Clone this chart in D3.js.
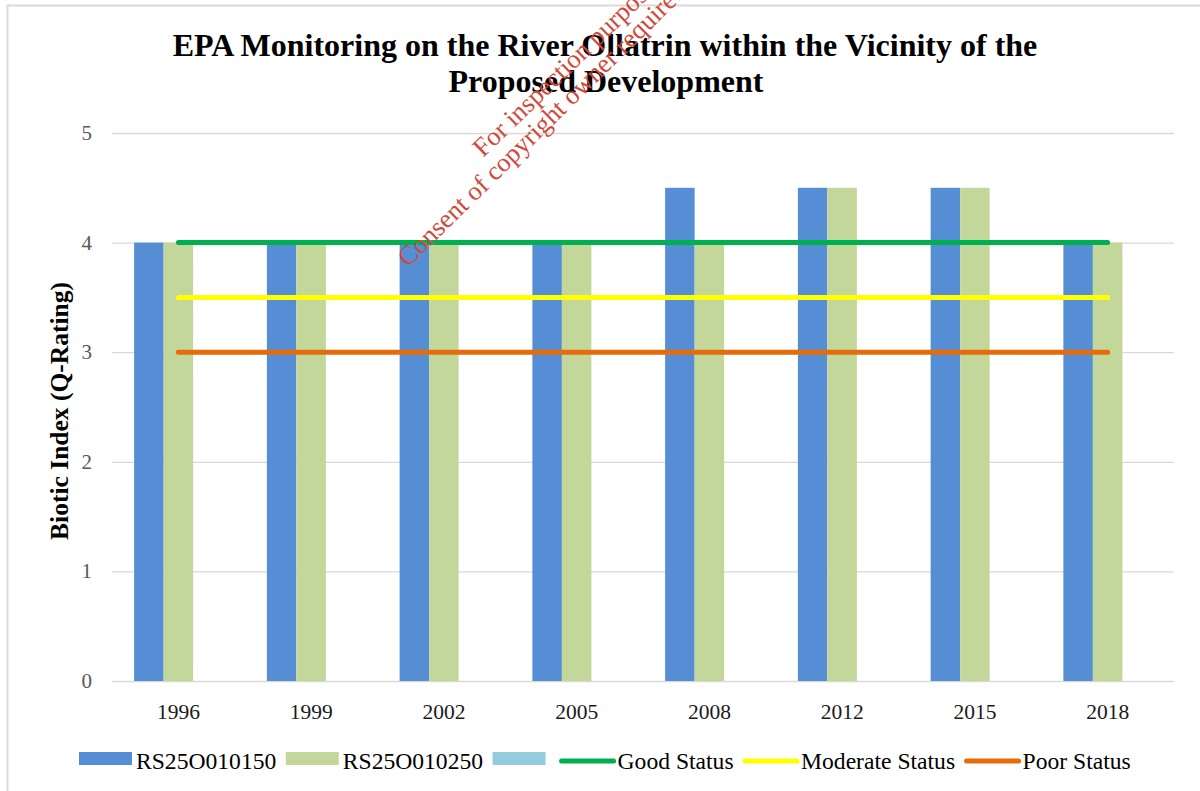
<!DOCTYPE html>
<html>
<head>
<meta charset="utf-8">
<script src="https://cdn.jsdelivr.net/npm/d3@7"></script>
<style>
  html, body { margin: 0; padding: 0; background: #fff; }
  svg { display: block; font-family: 'Liberation Serif', 'Times New Roman', serif; }
</style>
</head>
<body>
<div id="chart"></div>
<script>
const years = ['1996', '1999', '2002', '2005', '2008', '2012', '2015', '2018']
const rs150 = [4, 4, 4, 4, 4.5, 4.5, 4.5, 4]
const rs250 = [4, 4, 4, 4, 4, 4.5, 4.5, 4]
const rsEmpty = [null, null, null, null, null, null, null, null]
const yTicks = [0, 1, 2, 3, 4, 5]

const goodStatus = [4, 4, 4, 4, 4, 4, 4, 4]
const moderateStatus = [3.5, 3.5, 3.5, 3.5, 3.5, 3.5, 3.5, 3.5]
const poorStatus = [3, 3, 3, 3, 3, 3, 3, 3]

const barSeries = [
  { name: 'RS25O010150', values: rs150, color: '#558ed5' },
  { name: 'RS25O010250', values: rs250, color: '#c4d79b' },
  { name: '', values: rsEmpty, color: '#93cddd' },
]
const lineSeries = [
  { name: 'Good Status', values: goodStatus, color: '#00b050' },
  { name: 'Moderate Status', values: moderateStatus, color: '#ffff00' },
  { name: 'Poor Status', values: poorStatus, color: '#e46c0a' },
]

const W = 1200
const H = 791
const plot = { left: 112, right: 1174, top: 133, bottom: 681 }

const svg = d3.select('#chart').append('svg')
  .attr('width', W).attr('height', H)
  .attr('viewBox', `0 0 ${W} ${H}`)

// chart border (only top & left visible in frame)
svg.append('rect')
  .attr('x', 7.5).attr('y', 5.5)
  .attr('width', 1210).attr('height', 810)
  .attr('fill', 'none').attr('stroke', '#d9d9d9').attr('stroke-width', 2)

const x = d3.scaleBand().domain(years).range([plot.left, plot.right]).paddingInner(0).paddingOuter(0)
const barW = x.bandwidth() / 4.5
const xSub = d3.scaleBand().domain(d3.range(barSeries.length))
  .range([0, barW * barSeries.length])
const groupOffset = (x.bandwidth() - barW * barSeries.length) / 2
const y = d3.scaleLinear().domain([0, 5]).range([plot.bottom, plot.top])

// gridlines
svg.append('g')
  .attr('transform', `translate(${plot.left},0)`)
  .call(d3.axisLeft(y).tickValues(yTicks).tickSize(-(plot.right - plot.left)).tickFormat(''))
  .call((g) => g.select('.domain').remove())
  .call((g) => g.selectAll('line').attr('stroke', '#d9d9d9').attr('stroke-width', 1.3))

// y tick labels
svg.append('g')
  .selectAll('text')
  .data(yTicks)
  .join('text')
  .attr('x', 92)
  .attr('y', (d) => y(d) + 7)
  .attr('text-anchor', 'end')
  .attr('font-size', 21)
  .attr('fill', '#595959')
  .text((d) => d)

// x tick labels
svg.append('g')
  .selectAll('text')
  .data(years)
  .join('text')
  .attr('x', (d) => x(d) + x.bandwidth() / 2)
  .attr('y', 719)
  .attr('text-anchor', 'middle')
  .attr('font-size', 21.5)
  .attr('fill', '#1a1a1a')
  .text((d) => d)

// bars
barSeries.forEach((s, si) => {
  svg.append('g')
    .selectAll('rect')
    .data(years.map((yr, i) => ({ yr, v: s.values[i] })).filter((d) => d.v != null))
    .join('rect')
    .attr('x', (d) => x(d.yr) + groupOffset + xSub(si))
    .attr('y', (d) => y(d.v))
    .attr('width', barW)
    .attr('height', (d) => y(0) - y(d.v))
    .attr('fill', s.color)
})

// status lines
const line = d3.line()
  .x((d) => x(d.yr) + x.bandwidth() / 2)
  .y((d) => y(d.v))
lineSeries.forEach((s) => {
  svg.append('path')
    .datum(years.map((yr, i) => ({ yr, v: s.values[i] })))
    .attr('d', line)
    .attr('fill', 'none')
    .attr('stroke', s.color)
    .attr('stroke-width', 5)
    .attr('stroke-linecap', 'round')
})

// title
const title = svg.append('text')
  .attr('text-anchor', 'middle')
  .attr('font-size', 32)
  .attr('font-weight', 'bold')
  .attr('fill', '#000')
title.append('tspan').attr('x', 605).attr('y', 56)
  .text('EPA Monitoring on the River Ollatrin within the Vicinity of the')
title.append('tspan').attr('x', 606).attr('y', 92)
  .text('Proposed Development')

// y axis label
svg.append('text')
  .attr('transform', 'translate(68,411) rotate(-90)')
  .attr('text-anchor', 'middle')
  .attr('font-size', 25.5)
  .attr('font-weight', 'bold')
  .text('Biotic Index (Q-Rating)')

// legend (flow layout)
const legendItems = [
  ...barSeries.map((s) => ({ ...s, kind: 'bar' })),
  ...lineSeries.map((s) => ({ ...s, kind: 'line' })),
]
const legend = svg.append('g')
let lx = 79
legendItems.forEach((item) => {
  const g = legend.append('g').attr('transform', `translate(${lx},0)`)
  let textX
  if (item.kind === 'bar') {
    g.append('rect').attr('x', 0).attr('y', 752).attr('width', 53).attr('height', 13)
      .attr('fill', item.color)
    textX = 57
  } else {
    g.append('line').attr('x1', 2).attr('x2', 54).attr('y1', 761).attr('y2', 761)
      .attr('stroke', item.color).attr('stroke-width', 5).attr('stroke-linecap', 'round')
    textX = 58
  }
  const t = g.append('text').attr('x', textX).attr('y', 769).attr('font-size', 23.6).attr('fill', '#000')
    .text(item.name)
  const tw = item.name ? t.node().getComputedTextLength() : 0
  lx += item.name ? textX + tw + 9.5 : 67
})

// watermark
const wm = svg.append('g')
  .attr('fill', '#d0493a')
  .attr('font-size', 26.5)
wm.append('text')
  .attr('transform', 'translate(483,158) rotate(-44)')
  .text('For inspection purposes only.')
wm.append('text')
  .attr('transform', 'translate(408,268) rotate(-44.5)')
  .text('Consent of copyright owner required for any other use.')
</script>
</body>
</html>
